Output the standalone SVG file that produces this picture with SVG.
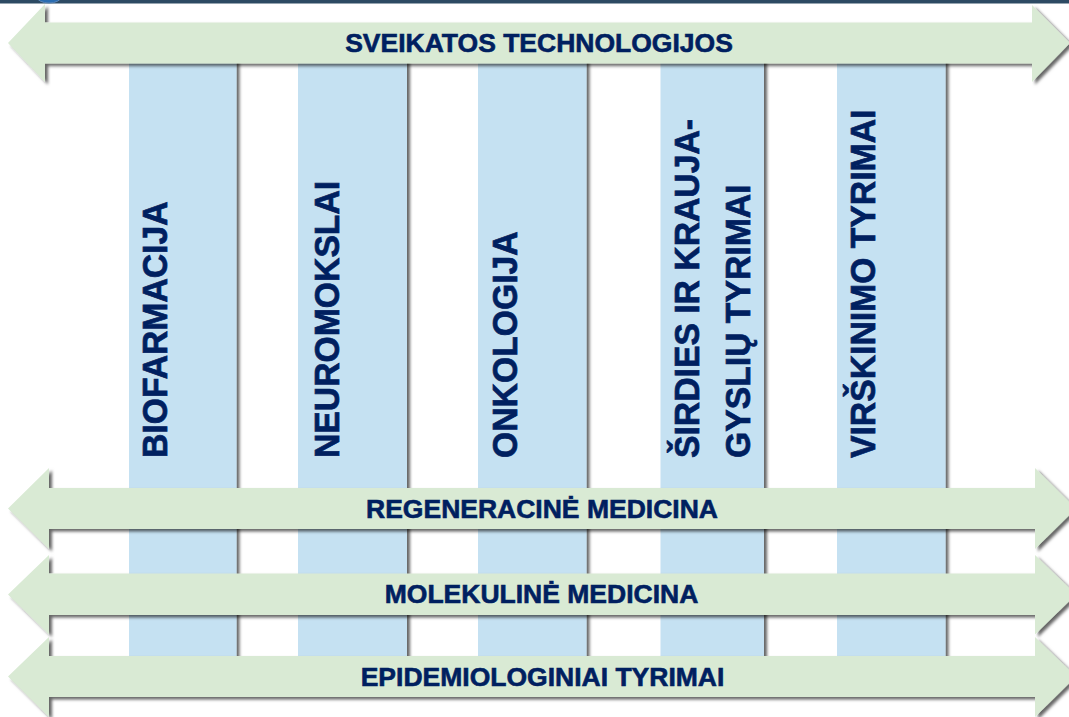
<svg xmlns="http://www.w3.org/2000/svg" width="1069" height="717" viewBox="0 0 1069 717">
<defs>
<filter id="sh" x="-5%" y="-5%" width="115%" height="115%">
<feDropShadow dx="3" dy="2.5" stdDeviation="1.8" flood-color="#000" flood-opacity="0.6"/>
</filter>
<style>
.col{fill:#c5e1f2;filter:url(#sh)}
.arr{fill:#d9ead4;filter:url(#sh)}
.vt{font-family:"Liberation Sans",Arial,sans-serif;font-weight:bold;font-size:35.5px;fill:#002060;stroke:#002060;stroke-width:0.7px}
.ht{font-family:"Liberation Sans",Arial,sans-serif;font-weight:bold;font-size:26.5px;fill:#002060;stroke:#002060;stroke-width:0.6px;text-anchor:middle}
</style>
</defs>
<rect x="0" y="0" width="1069" height="717" fill="#ffffff"/>
<g id="topbar">
<rect x="0" y="0" width="1069" height="3.5" fill="#2d4a63"/>
<ellipse cx="49" cy="-3" rx="12" ry="6" fill="#2a6cb0" stroke="#5b86b8" stroke-width="1"/>
</g>
<g id="col-biofarmacija">
<rect class="col" x="129" y="40" width="107.5" height="650"/>
<text class="vt" transform="translate(167,458) rotate(-90) scale(0.95,1)">BIOFARMACIJA</text>
</g>
<g id="col-neuromokslai">
<rect class="col" x="298" y="40" width="109" height="650"/>
<text class="vt" transform="translate(338.5,458) rotate(-90) scale(0.95,1)">NEUROMOKSLAI</text>
</g>
<g id="col-onkologija">
<rect class="col" x="478" y="40" width="108.5" height="650"/>
<text class="vt" transform="translate(517,458) rotate(-90) scale(0.95,1)">ONKOLOGIJA</text>
</g>
<g id="col-sirdies">
<rect class="col" x="660.5" y="40" width="103.5" height="650"/>
<text class="vt" transform="translate(699,458) rotate(-90) scale(0.95,1)">ŠIRDIES IR KRAUJA-</text>
<text class="vt" transform="translate(750,458) rotate(-90) scale(0.95,1)">GYSLIŲ TYRIMAI</text>
</g>
<g id="col-virskinimo">
<rect class="col" x="837" y="40" width="108.5" height="650"/>
<text class="vt" transform="translate(875,458) rotate(-90) scale(0.95,1)">VIRŠKINIMO TYRIMAI</text>
</g>
<g id="connectors">
<g id="arrow-sveikatos">
<polygon class="arr" points="8,43 45,4 45,22.5 1032,22.5 1032,5 1070,43 1032,82 1032,63.5 45,63.5 45,82"/>
<text class="ht" x="539" y="52">SVEIKATOS TECHNOLOGIJOS</text>
</g>
<g id="arrow-regeneracine">
<polygon class="arr" points="8,508.5 49,468 49,488 1035,488 1035,468 1076,508.5 1035,549 1035,529 49,529 49,549"/>
<text class="ht" x="542" y="518">REGENERACINĖ MEDICINA</text>
</g>
<g id="arrow-molekuline">
<polygon class="arr" points="8,594.5 49,555 49,573.5 1035,573.5 1035,555 1076,594.5 1035,634.5 1035,615 49,615 49,634.5"/>
<text class="ht" x="541.5" y="603">MOLEKULINĖ MEDICINA</text>
</g>
<g id="arrow-epidemiologiniai">
<polygon class="arr" points="8,676.5 49,637 49,656 1035,656 1035,637 1076,676.5 1035,717 1035,697 49,697 49,717"/>
<text class="ht" x="542.5" y="686">EPIDEMIOLOGINIAI TYRIMAI</text>
</g>
</g>
</svg>
